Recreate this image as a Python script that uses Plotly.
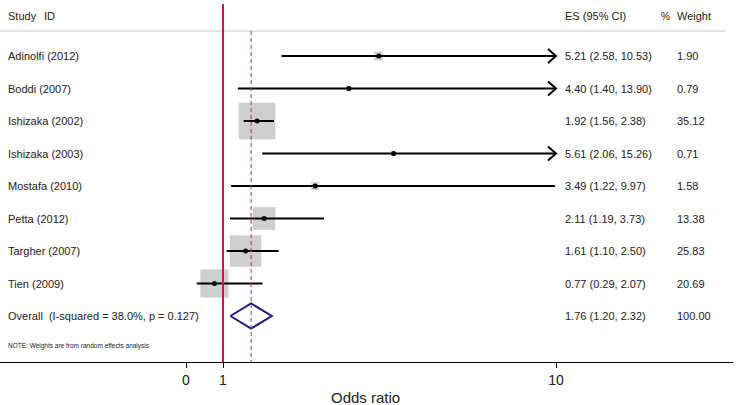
import plotly.graph_objects as go

# ---------------- data ----------------
studies = ["Adinolfi (2012)", "Boddi (2007)", "Ishizaka (2002)", "Ishizaka (2003)",
           "Mostafa (2010)", "Petta (2012)", "Targher (2007)", "Tien (2009)"]
es = [5.21, 4.40, 1.92, 5.61, 3.49, 2.11, 1.61, 0.77]
ci_lo = [2.58, 1.40, 1.56, 2.06, 1.22, 1.19, 1.10, 0.29]
ci_hi = [10.53, 13.90, 2.38, 15.26, 9.97, 3.73, 2.50, 2.07]
weights = [1.90, 0.79, 35.12, 0.71, 1.58, 13.38, 25.83, 20.69]

overall_label = "Overall\u00a0\u00a0(I-squared = 38.0%, p = 0.127)"
overall_es = 1.76
overall_lo = 1.20
overall_hi = 2.32
overall_weight = 100.00

tick_vals = [0, 1, 10]
tick_text = ["0", "1", "10"]
null_value = 1
axis_cap = 10
note_text = "NOTE: Weights are from random effects analysis"

# ---------------- layout constants ----------------
W, H = 738, 405
ML, MR, MT, MB = 0, 5, 0, 43
PX0 = 186.0      # pixel of x=0
PXU = 37.0       # pixels per unit x
ROW0 = 56.0      # pixel of first row
ROWH = 32.5      # pixels per row
plot_w = W - ML - MR
plot_h = H - MT - MB
x_range = [(ML - PX0) / PXU, (W - MR - PX0) / PXU]
y_range = [(MT + plot_h - ROW0) / ROWH, (MT - ROW0) / ROWH]

def px_to_paper_x(px):
    return (px - ML) / plot_w

def py_to_row(py):
    return (py - ROW0) / ROWH

TXT = "#222222"
FONT = "Liberation Sans, Arial, sans-serif"
n = len(studies)
rows = list(range(n))
overall_row = n

fig = go.Figure()

# weight boxes
fig.add_trace(go.Scatter(
    x=es, y=rows, mode="markers",
    marker=dict(symbol="square", size=[6.2 * w ** 0.5 for w in weights],
                color="#bababa", line=dict(width=0)),
    hoverinfo="skip", showlegend=False))

# CI lines
for i in range(n):
    fig.add_trace(go.Scatter(
        x=[ci_lo[i], min(ci_hi[i], axis_cap)], y=[i, i], mode="lines",
        line=dict(color="black", width=2), hoverinfo="skip", showlegend=False))
    if ci_hi[i] > axis_cap:
        dx = 8 / PXU
        dy = 7 / ROWH
        fig.add_trace(go.Scatter(
            x=[axis_cap - dx, axis_cap, axis_cap - dx], y=[i - dy, i, i + dy],
            mode="lines", line=dict(color="black", width=2),
            hoverinfo="skip", showlegend=False))

# point estimates
fig.add_trace(go.Scatter(
    x=es, y=rows, mode="markers",
    marker=dict(symbol="circle", size=5, color="black"),
    hoverinfo="skip", showlegend=False))

# overall diamond
dh = 12.5 / ROWH
fig.add_trace(go.Scatter(
    x=[overall_lo, overall_es, overall_hi, overall_es, overall_lo],
    y=[overall_row, overall_row - dh, overall_row, overall_row + dh, overall_row],
    mode="lines", line=dict(color="#1c1c78", width=2),
    hoverinfo="skip", showlegend=False))

shapes = []
# header line
shapes.append(dict(type="line", xref="paper", yref="y", x0=0, x1=px_to_paper_x(726),
                   y0=py_to_row(31), y1=py_to_row(31),
                   line=dict(color="#c8c8c8", width=1)))
# null line
shapes.append(dict(type="line", xref="x", yref="y", x0=null_value, x1=null_value,
                   y0=py_to_row(4), y1=y_range[0],
                   line=dict(color="#c8174a", width=2)))
# overall dashed line
shapes.append(dict(type="line", xref="x", yref="y", x0=overall_es, x1=overall_es,
                   y0=py_to_row(31), y1=y_range[0],
                   line=dict(color="#a8384f", width=1, dash="4px,3px")))

annotations = []
def add_text(px, row, text, size=11):
    annotations.append(dict(xref="paper", yref="y", x=px_to_paper_x(px), y=row,
                            text=text, showarrow=False, xanchor="left", yanchor="middle",
                            font=dict(family=FONT, size=size, color=TXT)))

hdr = py_to_row(16)
add_text(6, hdr, "Study")
add_text(42, hdr, "ID")
add_text(563, hdr, "ES (95% CI)")
add_text(659, hdr, "%", size=10)
add_text(675, hdr, "Weight")

for i in range(n):
    add_text(6, i, studies[i])
    add_text(563, i, f"{es[i]:.2f} ({ci_lo[i]:.2f}, {ci_hi[i]:.2f})")
    add_text(675, i, f"{weights[i]:.2f}")

add_text(6, overall_row, overall_label)
add_text(563, overall_row, f"{overall_es:.2f} ({overall_lo:.2f}, {overall_hi:.2f})")
add_text(675, overall_row, f"{overall_weight:.2f}")
add_text(6, py_to_row(346), note_text, size=6.5)

annotations.append(dict(xref="x", yref="paper", x=(365 - PX0) / PXU, y=-35 / plot_h,
                        text="Odds ratio", showarrow=False, xanchor="center",
                        yanchor="middle", font=dict(family=FONT, size=15, color=TXT)))

fig.update_layout(
    width=W, height=H,
    margin=dict(l=ML, r=MR, t=MT, b=MB, pad=0),
    paper_bgcolor="white", plot_bgcolor="white",
    shapes=shapes, annotations=annotations,
    xaxis=dict(range=x_range, showgrid=False, zeroline=False, showline=True,
               linecolor="black", linewidth=1, ticks="outside", ticklen=5,
               tickcolor="black", tickvals=tick_vals, ticktext=tick_text,
               tickfont=dict(family=FONT, size=14, color=TXT)),
    yaxis=dict(range=y_range, visible=False, showgrid=False, zeroline=False),
)

fig.write_html("out.html")
